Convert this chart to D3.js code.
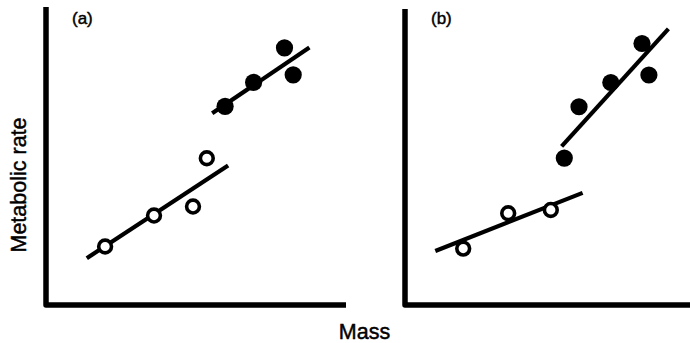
<!DOCTYPE html>
<html>
<head>
<meta charset="utf-8">
<script src="https://cdn.jsdelivr.net/npm/d3@7"></script>
<style>
  html, body { margin: 0; padding: 0; background: #fff; }
  svg { display: block; }
  text { font-family: "Liberation Sans", Arial, Helvetica, sans-serif; fill: #000; stroke: #000; stroke-width: 0.45px; }
</style>
</head>
<body>
<script>
// ---- Data (arbitrary units) ----
const panelLabels = ["(a)", "(b)"];
const xAxisTitle = "Mass";
const yAxisTitle = "Metabolic rate";

// Panel (a)
const openA_mass = [1.97, 3.60, 4.90, 5.36];
const openA_rate = [1.95, 2.98, 3.28, 4.89];
const openA_fitMass = [1.36, 6.07];
const openA_fitRate = [1.56, 4.65];
const filledA_mass = [5.97, 6.92, 7.95, 8.24];
const filledA_rate = [6.62, 7.42, 8.57, 7.67];
const filledA_fitMass = [5.54, 8.78];
const filledA_fitRate = [6.39, 8.58];

// Panel (b)
const openB_mass = [1.94, 3.44, 4.86];
const openB_rate = [1.88, 3.06, 3.17];
const openB_fitMass = [1.01, 5.92];
const openB_fitRate = [1.80, 3.74];
const filledB_mass = [5.31, 5.80, 6.86, 7.90, 8.13];
const filledB_rate = [4.90, 6.61, 7.42, 8.72, 7.67];
const filledB_fitMass = [5.22, 8.78];
const filledB_fitRate = [5.29, 9.21];

const zip = (xs, ys) => xs.map((x, i) => ({x, y: ys[i]}));

const panels = [
  { label: panelLabels[0], xDomain: [0, 10], xRange: [46, 346], yDomain: [0, 9.93], yRange: [305, 7],
    open: zip(openA_mass, openA_rate), openFit: zip(openA_fitMass, openA_fitRate),
    filled: zip(filledA_mass, filledA_rate), filledFit: zip(filledA_fitMass, filledA_fitRate) },
  { label: panelLabels[1], xDomain: [0, 9.5], xRange: [405, 690], yDomain: [0, 9.87], yRange: [305, 9],
    open: zip(openB_mass, openB_rate), openFit: zip(openB_fitMass, openB_fitRate),
    filled: zip(filledB_mass, filledB_rate), filledFit: zip(filledB_fitMass, filledB_fitRate) }
];

const W = 690, H = 343;
const svg = d3.select("body").append("svg").attr("width", W).attr("height", H);

panels.forEach(p => {
  const x = d3.scaleLinear().domain(p.xDomain).range(p.xRange);
  const y = d3.scaleLinear().domain(p.yDomain).range(p.yRange);
  const g = svg.append("g");

  // axes (L-shaped frame)
  const x0 = x(p.xDomain[0]), x1 = x(p.xDomain[1]);
  const y0 = y(p.yDomain[0]), y1 = y(p.yDomain[1]);
  g.append("path")
    .attr("d", `M${x0},${y1} L${x0},${y0} L${x1},${y0}`)
    .attr("fill", "none").attr("stroke", "#000")
    .attr("stroke-width", 5.5).attr("stroke-linejoin", "round");

  const line = d3.line().x(d => x(d.x)).y(d => y(d.y));

  // fitted lines
  [p.openFit, p.filledFit].forEach(f => {
    g.append("path").attr("d", line(f))
      .attr("fill", "none").attr("stroke", "#000").attr("stroke-width", 4.2);
  });

  // filled points
  g.selectAll(".filled").data(p.filled).enter().append("circle")
    .attr("cx", d => x(d.x)).attr("cy", d => y(d.y)).attr("r", 8.6)
    .attr("fill", "#000");

  // open points
  g.selectAll(".open").data(p.open).enter().append("circle")
    .attr("cx", d => x(d.x)).attr("cy", d => y(d.y)).attr("r", 6.4)
    .attr("fill", "#fff").attr("stroke", "#000").attr("stroke-width", 3.6);

  // panel label
  g.append("text").attr("x", x0 + 26).attr("y", 23.5)
    .attr("font-size", 17).text(p.label);
});

// axis titles
svg.append("text").attr("x", 364.5).attr("y", 339)
  .attr("text-anchor", "middle").attr("font-size", 21.5).text(xAxisTitle);
svg.append("text").attr("transform", "translate(26,185) rotate(-90)")
  .attr("text-anchor", "middle").attr("font-size", 21.5).text(yAxisTitle);
</script>
</body>
</html>
